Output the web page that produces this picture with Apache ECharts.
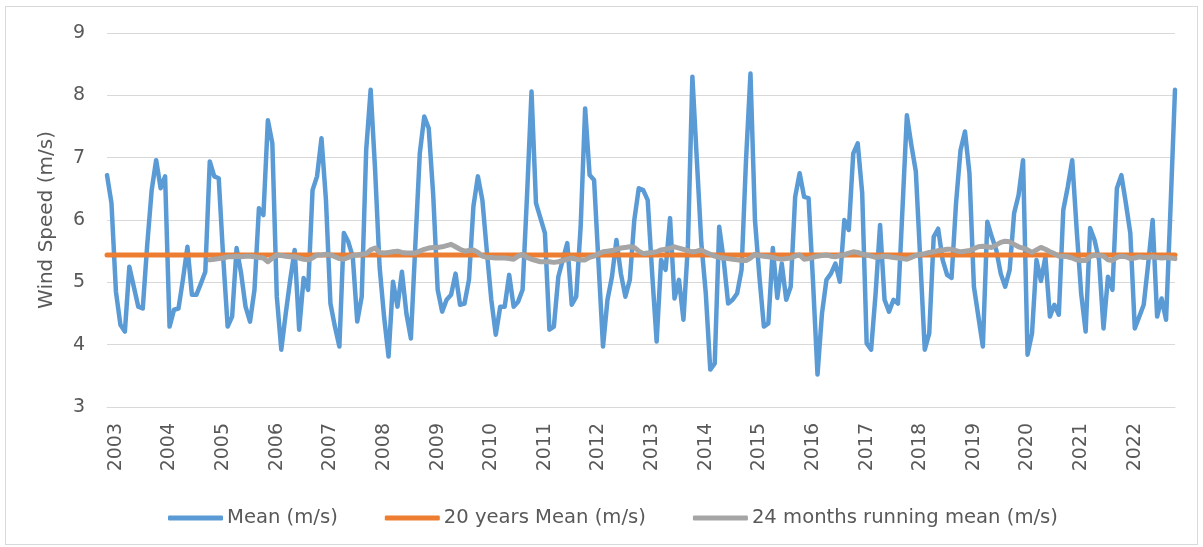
<!DOCTYPE html>
<html>
<head>
<meta charset="utf-8">
<script src="https://cdn.jsdelivr.net/npm/echarts@6/dist/echarts.min.js"></script>
<style>
  html, body { margin: 0; padding: 0; background: #ffffff; }
  #wrap { position: relative; width: 1203px; height: 547px; }
  #chart { position: absolute; left: 0; top: 0; width: 1203px; height: 547px; }
  #frame { position: absolute; left: 5px; top: 6px; width: 1191px; height: 537px;
           border: 1px solid #d9d9d9; pointer-events: none; }
</style>
</head>
<body>
<div id="wrap">
  <div id="chart"></div>
  <div id="frame"></div>
</div>
<script>
// Monthly wind speed, January 2003 – December 2022
const years = [2003, 2004, 2005, 2006, 2007, 2008, 2009, 2010, 2011, 2012,
               2013, 2014, 2015, 2016, 2017, 2018, 2019, 2020, 2021, 2022];

// Monthly mean wind speed (m/s), one row per year (Jan..Dec)
const meanSpeed = [
  6.72, 6.27, 4.85, 4.32, 4.21, 5.25, 4.93, 4.61, 4.58, 5.60, 6.48, 6.96,
  6.51, 6.70, 4.29, 4.56, 4.58, 5.05, 5.57, 4.80, 4.80, 4.98, 5.17, 6.94,
  6.70, 6.67, 5.40, 4.29, 4.45, 5.55, 5.15, 4.61, 4.37, 4.88, 6.19, 6.08,
  7.60, 7.23, 4.77, 3.92, 4.50, 5.04, 5.52, 4.24, 5.07, 4.88, 6.48, 6.70,
  7.31, 6.32, 4.66, 4.29, 3.97, 5.79, 5.65, 5.41, 4.37, 4.77, 7.12, 8.09,
  6.80, 5.25, 4.45, 3.81, 5.01, 4.61, 5.17, 4.50, 4.10, 5.60, 7.07, 7.66,
  7.47, 6.40, 4.88, 4.53, 4.72, 4.80, 5.14, 4.64, 4.66, 5.04, 6.22, 6.70,
  6.32, 5.50, 4.72, 4.16, 4.61, 4.61, 5.12, 4.61, 4.69, 4.88, 6.40, 8.06,
  6.27, 6.03, 5.79, 4.24, 4.29, 5.09, 5.36, 5.63, 4.64, 4.77, 5.90, 7.79,
  6.72, 6.64, 5.30, 3.97, 4.72, 5.09, 5.68, 5.14, 4.77, 5.04, 6.00, 6.51,
  6.48, 6.32, 5.14, 4.05, 5.36, 5.20, 6.03, 4.74, 5.04, 4.40, 5.60, 8.30,
  6.96, 5.63, 4.82, 3.60, 3.70, 5.89, 5.36, 4.66, 4.72, 4.82, 5.20, 6.96,
  8.35, 6.00, 5.09, 4.29, 4.34, 5.55, 4.75, 5.30, 4.72, 4.93, 6.37, 6.75,
  6.37, 6.35, 5.00, 3.52, 4.50, 5.04, 5.14, 5.30, 5.01, 6.00, 5.84, 7.07,
  7.23, 6.43, 4.02, 3.92, 4.82, 5.92, 4.72, 4.53, 4.72, 4.66, 6.16, 7.68,
  7.20, 6.78, 5.36, 3.92, 4.18, 5.73, 5.86, 5.36, 5.12, 5.07, 6.27, 7.12,
  7.42, 6.75, 4.93, 4.45, 3.97, 5.97, 5.73, 5.52, 5.14, 4.93, 5.20, 6.11,
  6.40, 6.96, 3.84, 4.18, 5.36, 5.02, 5.41, 4.45, 4.64, 4.48, 6.16, 6.53,
  6.96, 5.84, 4.82, 4.21, 5.87, 5.68, 5.36, 4.26, 5.09, 4.88, 6.51, 6.72,
  6.27, 5.79, 4.26, 4.45, 4.64, 5.30, 6.00, 4.45, 4.74, 4.40, 6.20, 8.09
];

// 20-year mean wind speed (m/s)
const twentyYearMean = 5.44;

// 24-month running mean (m/s); first value at December 2004
const runningMeanStart = 23;
const runningMean24 = [
                                                                      5.36,
  5.37, 5.38, 5.39, 5.41, 5.41, 5.42, 5.41, 5.42, 5.42, 5.41, 5.40, 5.39,
  5.33, 5.39, 5.44, 5.43, 5.42, 5.41, 5.41, 5.39, 5.37, 5.36, 5.39, 5.44,
  5.44, 5.45, 5.44, 5.41, 5.38, 5.37, 5.40, 5.43, 5.44, 5.45, 5.46, 5.52,
  5.55, 5.48, 5.47, 5.48, 5.49, 5.50, 5.48, 5.47, 5.47, 5.47, 5.50, 5.53,
  5.55, 5.56, 5.56, 5.57, 5.59, 5.61, 5.57, 5.53, 5.50, 5.51, 5.52, 5.48,
  5.42, 5.40, 5.40, 5.39, 5.39, 5.39, 5.38, 5.37, 5.42, 5.45, 5.40, 5.37,
  5.35, 5.33, 5.33, 5.33, 5.32, 5.33, 5.35, 5.37, 5.39, 5.37, 5.36, 5.36,
  5.40, 5.42, 5.46, 5.49, 5.50, 5.51, 5.53, 5.55, 5.56, 5.57, 5.56, 5.50,
  5.46, 5.47, 5.48, 5.49, 5.52, 5.53, 5.55, 5.57, 5.55, 5.53, 5.51, 5.49,
  5.50, 5.52, 5.48, 5.45, 5.42, 5.40, 5.39, 5.38, 5.37, 5.36, 5.35, 5.35,
  5.39, 5.45, 5.43, 5.42, 5.41, 5.40, 5.38, 5.37, 5.38, 5.39, 5.42, 5.44,
  5.37, 5.38, 5.40, 5.42, 5.43, 5.44, 5.42, 5.41, 5.43, 5.44, 5.47, 5.49,
  5.48, 5.45, 5.44, 5.42, 5.40, 5.41, 5.42, 5.41, 5.40, 5.39, 5.38, 5.37,
  5.40, 5.43, 5.45, 5.46, 5.48, 5.49, 5.51, 5.52, 5.53, 5.53, 5.51, 5.49,
  5.50, 5.51, 5.54, 5.57, 5.58, 5.57, 5.56, 5.60, 5.64, 5.66, 5.65, 5.61,
  5.57, 5.55, 5.52, 5.48, 5.52, 5.56, 5.53, 5.49, 5.46, 5.42, 5.42, 5.41,
  5.39, 5.36, 5.35, 5.35, 5.41, 5.44, 5.43, 5.42, 5.36, 5.35, 5.40, 5.42,
  5.41, 5.38, 5.39, 5.41, 5.40, 5.40, 5.41, 5.40, 5.39, 5.40, 5.39, 5.38
];

// Category axis: one entry per month
const months = [];
years.forEach(function (y) {
  for (let m = 1; m <= 12; m++) months.push(y + '-' + (m < 10 ? '0' + m : m));
});
const meanLine = months.map(function () { return twentyYearMean; });
const runningLine = months.map(function (_, i) {
  return i < runningMeanStart ? null : runningMean24[i - runningMeanStart];
});

const textColor = '#595959';
const gridColor = '#d9d9d9';
const fontFamily = '"DejaVu Sans", "Liberation Sans", sans-serif';

const chart = echarts.init(document.getElementById('chart'), null, { renderer: 'canvas' });
chart.setOption({
  animation: false,
  textStyle: { fontFamily: fontFamily },
  grid: { left: 107, right: 28, top: 33, bottom: 140, containLabel: false },
  legend: {
    left: 163,
    top: 503,
    itemWidth: 55,
    itemHeight: 5,
    itemGap: 47,
    icon: 'roundRect',
    textStyle: { color: textColor, fontSize: 19.6, fontFamily: fontFamily, padding: [0, 0, 0, -1] },
    data: ['Mean (m/s)', '20 years Mean (m/s)', '24 months running mean (m/s)']
  },
  xAxis: {
    type: 'category',
    boundaryGap: false,
    data: months,
    axisLine: { show: true, lineStyle: { color: gridColor, width: 1 } },
    axisTick: { show: false },
    splitLine: { show: false },
    axisLabel: {
      rotate: 90,
      margin: 16,
      color: textColor,
      fontSize: 19,
      fontFamily: fontFamily,
      interval: function (index) { return index % 12 === 2; },
      formatter: function (value) { return value.slice(0, 4); }
    }
  },
  yAxis: {
    type: 'value',
    min: 3,
    max: 9,
    interval: 1,
    name: 'Wind Speed (m/s)',
    nameLocation: 'middle',
    nameGap: 50,
    nameRotate: 90,
    nameTextStyle: { color: textColor, fontSize: 20, fontFamily: fontFamily },
    axisLine: { show: false },
    axisTick: { show: false },
    axisLabel: { color: textColor, fontSize: 19, margin: 22, fontFamily: fontFamily },
    splitLine: { lineStyle: { color: gridColor, width: 1 } }
  },
  series: [
    {
      name: 'Mean (m/s)',
      type: 'line',
      data: meanSpeed,
      showSymbol: false,
      symbol: 'none',
      color: '#5B9BD5',
      lineStyle: { color: '#5B9BD5', width: 4.5, cap: 'round', join: 'round' }
    },
    {
      name: '20 years Mean (m/s)',
      type: 'line',
      data: meanLine,
      showSymbol: false,
      symbol: 'none',
      color: '#ED7D31',
      lineStyle: { color: '#ED7D31', width: 5, cap: 'round', join: 'round' }
    },
    {
      name: '24 months running mean (m/s)',
      type: 'line',
      data: runningLine,
      showSymbol: false,
      symbol: 'none',
      color: '#A5A5A5',
      lineStyle: { color: '#A5A5A5', width: 5, cap: 'round', join: 'round' }
    }
  ]
});
</script>
</body>
</html>
